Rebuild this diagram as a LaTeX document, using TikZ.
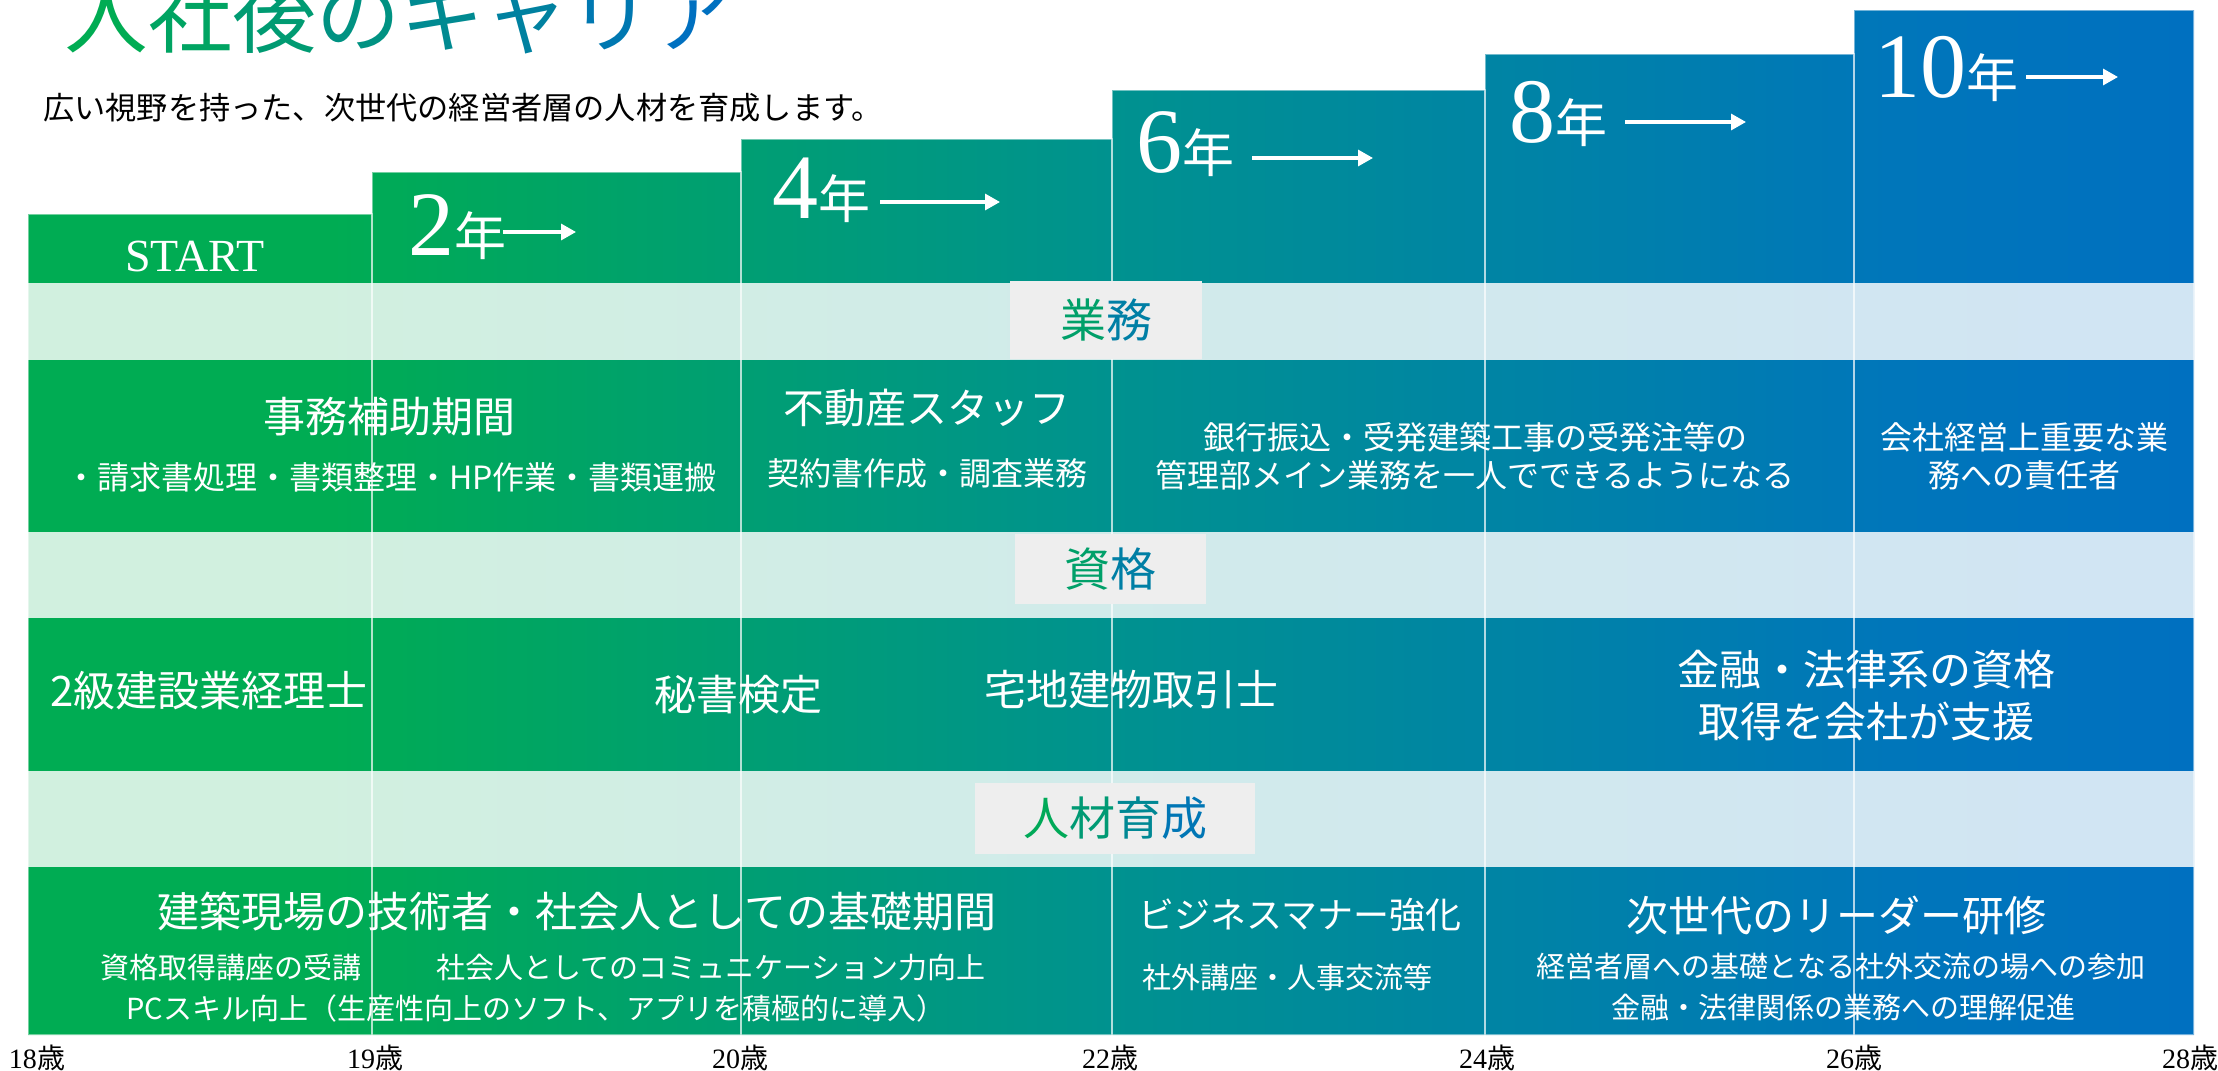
\documentclass[tikz,border=0pt]{standalone}
\usepackage{fontspec}
\setmainfont{Liberation Serif}
\newfontfamily\jp{Noto Sans CJK JP}
\usetikzlibrary{arrows.meta}
\definecolor{gA}{HTML}{00AC53}
\definecolor{gM}{HTML}{00928F}
\definecolor{gC}{HTML}{0076BA}
\definecolor{gB}{HTML}{0070C0}
\definecolor{tagbg}{HTML}{EEEEEE}
\pgfdeclarehorizontalshading{careershade}{100bp}{color(0bp)=(gA); color(25bp)=(gA); color(32bp)=(gA); color(50bp)=(gM); color(68bp)=(gC); color(75bp)=(gB); color(100bp)=(gB)}
\newcommand\gc[2]{\textcolor{gA!#1!gB}{#2}}
\newcommand\age[1]{{\rmfamily #1}{\jp 歳}}
\tikzset{
  band/.style={fill=white, fill opacity=0.82},
  colline/.style={draw=white, draw opacity=0.45, line width=1pt},
  tagbox/.style={fill=tagbg, inner sep=0pt, font=\jp\fontsize{23}{23}\selectfont},
  cell/.style={text=white, inner sep=0pt, align=center},
  rowhead/.style={cell, font=\jp\fontsize{21}{26}\selectfont},
  rowsub/.style={cell, font=\jp\fontsize{16}{19}\selectfont},
  rowfine/.style={cell, font=\jp\fontsize{14.5}{18}\selectfont},
  yearlbl/.style={text=white, inner sep=0pt},
  yarrow/.style={draw=white, line width=1.6pt, -{Triangle[length=7.5pt,width=8pt]}},
  agelbl/.style={inner sep=0pt, font=\fontsize{14}{14}\selectfont}
}
\begin{document}
\begin{tikzpicture}[x=0.5pt, y=-0.5pt]
  \useasboundingbox (0,0) rectangle (2218,1071);
  % title
  \node[anchor=base west, inner sep=0pt, font=\jp\fontsize{42}{42}\selectfont] (title) at (64,46)
    {\gc{100}{入}\gc{86}{社}\gc{71}{後}\gc{57}{の}\gc{43}{キ}\gc{29}{ャ}\gc{14}{リ}\gc{0}{ア}};
  \node[anchor=west, inner sep=0pt, font=\jp\fontsize{15.6}{16}\selectfont] (lead) at (43,108)
    {広い視野を持った、次世代の経営者層の人材を育成します。};
  % steps
  \shade[shading=careershade] (28,1035) -- (28,214) -- (372,214) -- (372,172) -- (741,172) -- (741,139)
    -- (1112,139) -- (1112,90) -- (1485,90) -- (1485,54) -- (1854,54) -- (1854,10) -- (2194,10) -- (2194,1035) -- cycle;
  \fill[band] (28,283) rectangle (2194,360);
  \fill[band] (28,532) rectangle (2194,618);
  \fill[band] (28,771) rectangle (2194,867);
  \foreach \xa/\xb/\top in {28/372/214, 372/741/172, 741/1112/139, 1112/1485/90, 1485/1854/54, 1854/2194/10}
    \draw[colline] (\xa,\top) rectangle (\xb,1035);
  % section tags
  \node[tagbox, minimum width=96pt, minimum height=39pt] (tagwork) at (1106,320) {\gc{80}{業}\gc{25}{務}};
  \node[tagbox, minimum width=95.5pt, minimum height=35pt] (taglic) at (1110,569) {\gc{80}{資}\gc{25}{格}};
  \node[tagbox, minimum width=140pt, minimum height=35.5pt] (tagedu) at (1115,818) {\gc{95}{人}\gc{70}{材}\gc{40}{育}\gc{10}{成}};
  % years
  \node[yearlbl, font=\fontsize{23}{23}\selectfont] (start) at (195,256) {START};
  \foreach \n/\dx/\by/\as/\ae/\ay in {2/408/255/503/576/232, 4/772/218/880/1000/202, 6/1136/172/1252/1373/158,
                                     8/1509/142/1625/1746/122, 10/1874/97/2026/2118/77}{
    \node[yearlbl, anchor=base west] (yr\n) at (\dx,\by)
      {{\rmfamily\fontsize{46}{46}\selectfont\n}{\jp\fontsize{26}{26}\selectfont 年}};
    \coordinate (ys\n) at (\as,\ay);
    \coordinate (ye\n) at (\ae,\ay);
    \draw[yarrow] (ys\n) -- (ye\n);
  }
  % work
  \node[rowhead] (work1) at (389,417) {事務補助期間};
  \node[rowsub] (work1s) at (391,477) {・請求書処理・書類整理・HP作業・書類運搬};
  \node[rowhead, font=\jp\fontsize{20.5}{26}\selectfont] (work2) at (927,408) {不動産スタッフ};
  \node[rowsub] (work2s) at (927,473) {契約書作成・調査業務};
  \node[rowsub] (work3) at (1475,456) {銀行振込・受発建築工事の受発注等の\\管理部メイン業務を一人でできるようになる};
  \node[rowsub] (work4) at (2024,456) {会社経営上重要な業\\務への責任者};
  % licences
  \node[rowhead] (lic1) at (209,691) {2級建設業経理士};
  \node[rowhead] (lic2) at (738,695) {秘書検定};
  \node[rowhead] (lic3) at (1131,690) {宅地建物取引士};
  \node[rowhead] (lic4) at (1866,696) {金融・法律系の資格\\取得を会社が支援};
  % training
  \node[rowhead] (edu1) at (577,912) {建築現場の技術者・社会人としての基礎期間};
  \node[rowfine] (edu1a) at (231,967) {資格取得講座の受講};
  \node[rowfine] (edu1b) at (711,967) {社会人としてのコミュニケーション力向上};
  \node[rowfine] (edu1c) at (536,1008) {PCスキル向上（生産性向上のソフト、アプリを積極的に導入）};
  \node[rowhead, font=\jp\fontsize{18}{22}\selectfont] (edu2) at (1300,915) {ビジネスマナー強化};
  \node[rowfine] (edu2a) at (1287,977) {社外講座・人事交流等};
  \node[rowhead] (edu3) at (1836,915) {次世代のリーダー研修};
  \node[rowfine] (edu3a) at (1841,967) {経営者層への基礎となる社外交流の場への参加};
  \node[rowfine] (edu3b) at (1843,1007) {金融・法律関係の業務への理解促進};
  % ages
  \foreach \a/\x in {18/37, 19/375, 20/740, 22/1110, 24/1487, 26/1854, 28/2190}
    \node[agelbl, anchor=base] (age\a) at (\x,1068) {\age{\a}};
\end{tikzpicture}
\end{document}
